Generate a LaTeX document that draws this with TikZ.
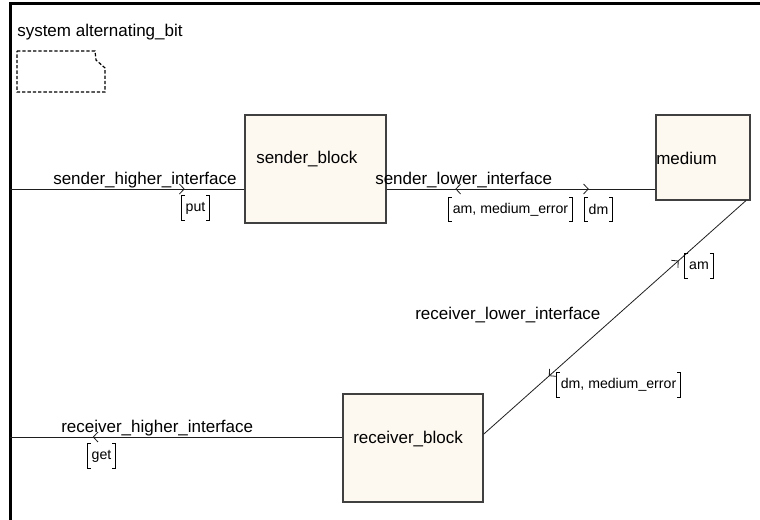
\documentclass[tikz,border=0pt]{standalone}
\usepackage{fontspec}
\setmainfont{Liberation Sans}
\usetikzlibrary{arrows.meta,decorations.markings}

\tikzset{
  blockbox/.style={draw={rgb, 255:red, 64; green, 64; blue, 64}, fill={rgb, 255:red, 253; green, 248; blue, 240}, line width=0.8pt, inner sep=0pt},
  chan/.style={draw={rgb, 255:red, 30; green, 30; blue, 30}, line width=0.6pt},
  lbl/.style={font=\fontsize{12.75}{15}\selectfont, inner sep=0pt, anchor=base west},
  siglist/.style={font=\fontsize{10.6}{12}\selectfont, minimum height=18pt, inner xsep=3pt, inner ysep=0pt},
  tipfwd/.style={decoration={markings, mark=at position #1 with {\arrow{Straight Barb[length=3.5pt,width=7.5pt]}}}, postaction={decorate}},
  tipbwd/.style={decoration={markings, mark=at position #1 with {\arrowreversed{Straight Barb[length=3.5pt,width=7.5pt]}}}, postaction={decorate}}
}

\begin{document}
\begin{tikzpicture}[x=0.75pt,y=0.75pt,yscale=-1,xscale=1]
        \useasboundingbox (0,0) rectangle (760,520);

        %Straight Lines: frame
        \draw[line width=2.25pt] (10,525) -- (10,4) -- (765,4) ;
        % Text Node
        \node[lbl] (title) at (17,37) {system alternating\_bit};
        %Shape: dashed block type symbol
        \draw[dashed, dash pattern=on 2.5pt off 1.5pt, line width=0.9pt] (17,51) -- (95,51) -- (96,60) -- (105,68) -- (105,92) -- (17,92) -- cycle ;

        %Shape: Rectangle
        \node[blockbox, minimum width=105.75pt, minimum height=81pt] (sender) at (315.5,169) {};
        %Shape: Rectangle
        \node[blockbox, minimum width=70.5pt, minimum height=63.75pt] (medium) at (703,157.5) {};
        %Shape: Rectangle
        \node[blockbox, minimum width=105pt, minimum height=81pt] (receiver) at (413,448) {};

        % Text Node
        \node[lbl] (senderLbl) at (256,164) {sender\_block};
        % Text Node
        \node[lbl] (mediumLbl) at (656,165) {medium};
        % Text Node
        \node[lbl] (receiverLbl) at (353,443) {receiver\_block};

        \coordinate (shEnv) at (10,189);
        \coordinate (rhEnv) at (10,437);

        %Straight Lines: sender_higher_interface
        \draw[chan, tipfwd=0.745] (shEnv) -- (shEnv -| sender.west) ;
        %Straight Lines: sender_lower_interface
        \draw[chan, decoration={markings,
            mark=at position 0.256 with {\arrowreversed{Straight Barb[length=3.5pt,width=7.5pt]}},
            mark=at position 0.752 with {\arrow{Straight Barb[length=3.5pt,width=7.5pt]}}}, postaction={decorate}]
            (shEnv -| sender.east) -- (shEnv -| medium.west) ;
        %Straight Lines: receiver_lower_interface
        \draw[chan, decoration={markings,
            mark=at position 0.257 with {\arrowreversed{Straight Barb[length=3.5pt,width=7.5pt]}},
            mark=at position 0.751 with {\arrow{Straight Barb[length=3.5pt,width=7.5pt]}}}, postaction={decorate}]
            (medium.-45) -- (receiver.11) ;
        %Straight Lines: receiver_higher_interface
        \draw[chan, tipbwd=0.249] (rhEnv) -- (rhEnv -| receiver.west) ;

        % Text Node
        \node[lbl] (shLbl) at (53,185) {sender\_higher\_interface};
        % Text Node
        \node[lbl] (slLbl) at (375,185) {sender\_lower\_interface};
        % Text Node
        \node[lbl] (rlLbl) at (415,320) {receiver\_lower\_interface};
        % Text Node
        \node[lbl] (rhLbl) at (61,432) {receiver\_higher\_interface};

        % Text Node: signal lists
        \node[siglist] (put) at (195.5,208) {put};
        \node[siglist] (amErr) at (510.5,209.5) {am, medium\_error};
        \node[siglist] (dm) at (598.5,209.5) {dm};
        \node[siglist] (am) at (699,266) {am};
        \node[siglist] (dmErr) at (618.5,385) {dm, medium\_error};
        \node[siglist] (get) at (101.5,456) {get};

        \foreach \s in {put,amErr,dm,am,dmErr,get} {
            \draw[line width=0.7pt] ([xshift=2.5pt]\s.north west) -- (\s.north west) -- (\s.south west) -- ([xshift=2.5pt]\s.south west) ;
            \draw[line width=0.7pt] ([xshift=-2.5pt]\s.north east) -- (\s.north east) -- (\s.south east) -- ([xshift=-2.5pt]\s.south east) ;
        }

\end{tikzpicture}
\end{document}
